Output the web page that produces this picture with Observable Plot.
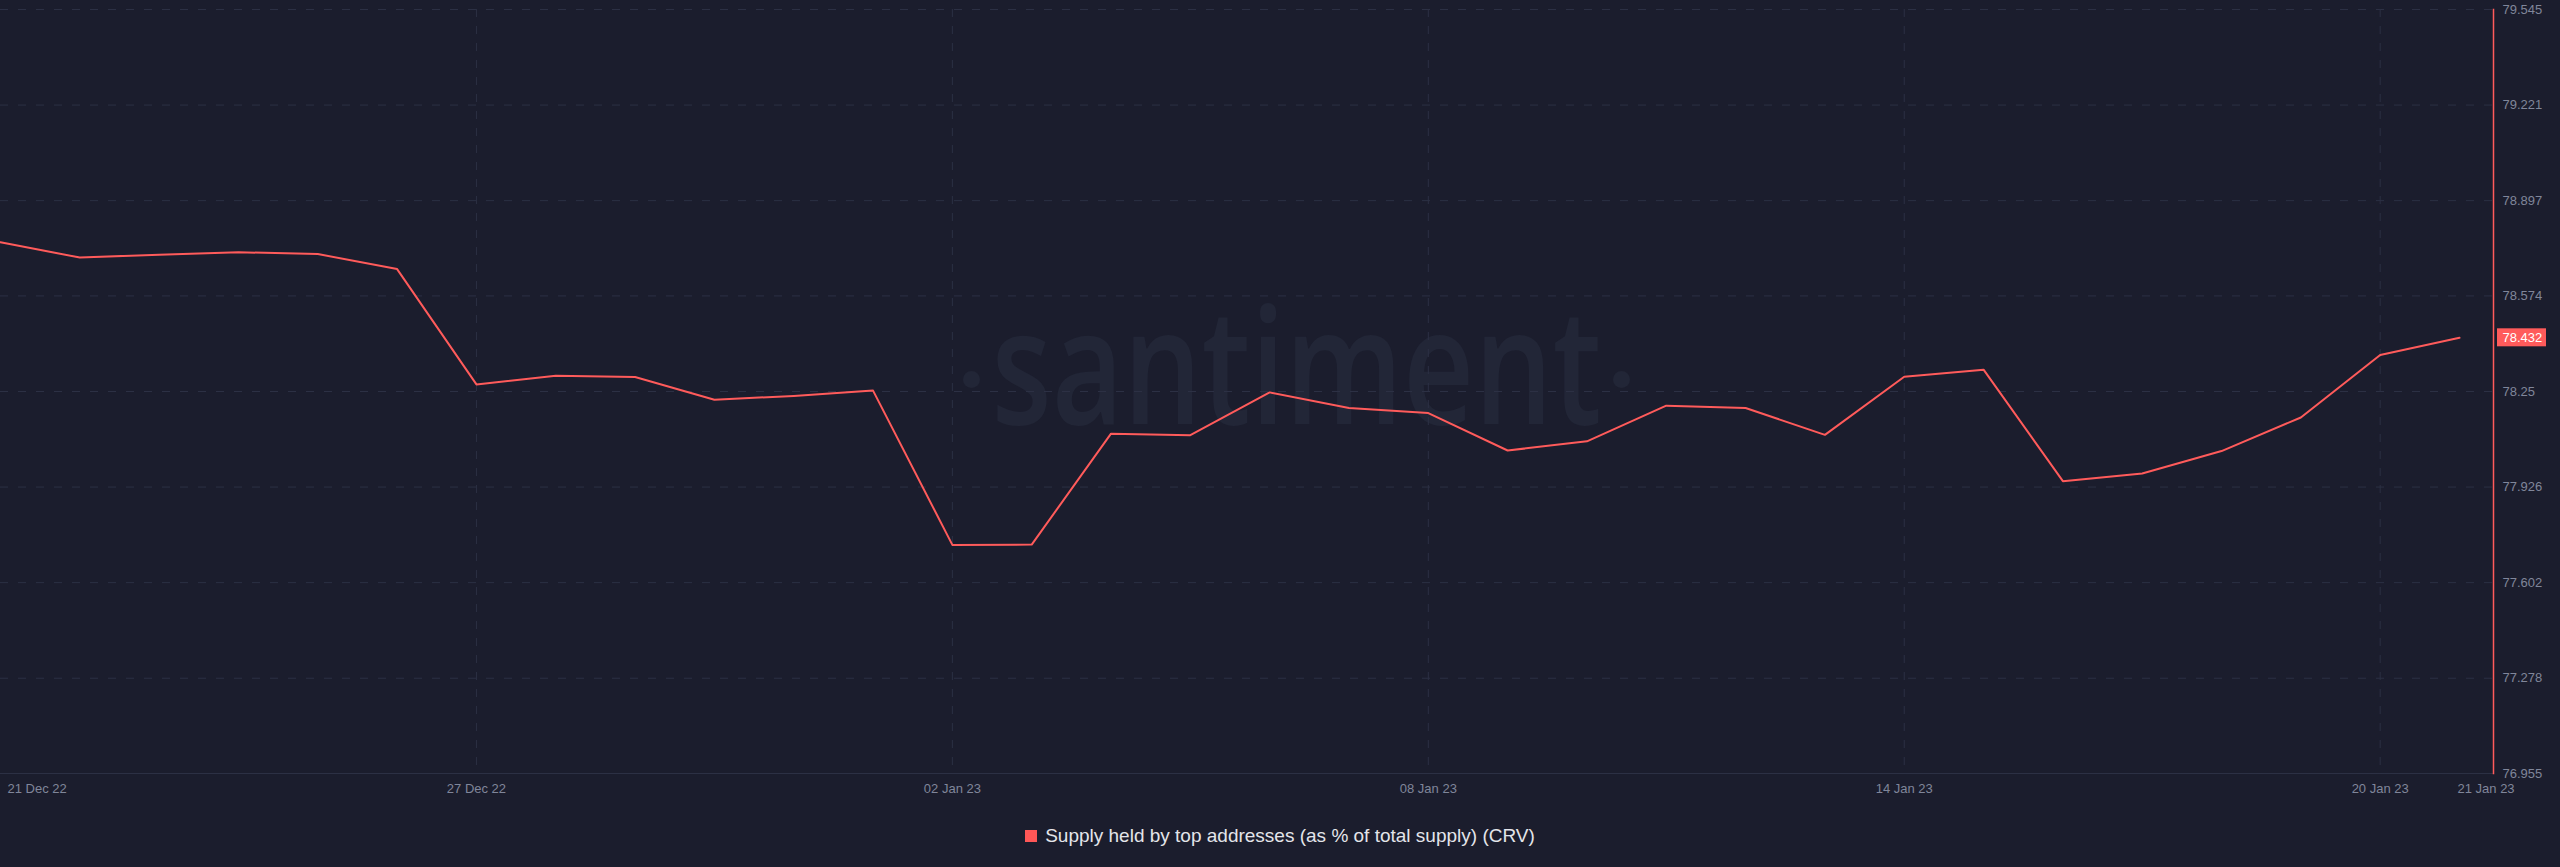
<!DOCTYPE html>
<html>
<head>
<meta charset="utf-8">
<script src="https://cdn.jsdelivr.net/npm/d3@7"></script>
<script src="https://cdn.jsdelivr.net/npm/@observablehq/plot@0.6"></script>
<style>
  html, body { margin: 0; padding: 0; background: #1b1d2d; }
  #chart svg { display: block; }
  #legend {
    height: 52px; display: flex; justify-content: center; align-items: center;
    font-family: "Liberation Sans", Arial, sans-serif; font-size: 19px; color: #e4e5ea;
  }
  #legend .sw { width: 12px; height: 12px; background: #ff5757; margin-right: 8px; display: inline-block; }
</style>
</head>
<body>
<div id="chart"></div>
<div id="legend"><span class="sw"></span><span id="legend-text"></span></div>
<script>
const seriesName = "Supply held by top addresses (as % of total supply) (CRV)";
const dates = [
  "2022-12-21","2022-12-22","2022-12-23","2022-12-24","2022-12-25","2022-12-26","2022-12-27","2022-12-28",
  "2022-12-29","2022-12-30","2022-12-31","2023-01-01","2023-01-02","2023-01-03","2023-01-04","2023-01-05",
  "2023-01-06","2023-01-07","2023-01-08","2023-01-09","2023-01-10","2023-01-11","2023-01-12","2023-01-13",
  "2023-01-14","2023-01-15","2023-01-16","2023-01-17","2023-01-18","2023-01-19","2023-01-20","2023-01-21"
];
const values = [
  78.756, 78.704, 78.714, 78.722, 78.716, 78.665, 78.274, 78.303,
  78.299, 78.222, 78.235, 78.253, 77.730, 77.731, 78.107, 78.102,
  78.247, 78.194, 78.177, 78.050, 78.081, 78.202, 78.194, 78.103,
  78.300, 78.324, 77.946, 77.972, 78.048, 78.162, 78.374, 78.432
];
const yTicks = [79.545, 79.221, 78.897, 78.574, 78.25, 77.926, 77.602, 77.278, 76.955];
const xTickDates = ["2022-12-27", "2023-01-02", "2023-01-08", "2023-01-14", "2023-01-20"];
const edgeDates = ["2022-12-21", "2023-01-21"];
const lastLabel = "78.432";
const watermark = "santiment";

const parse = d3.utcParse("%Y-%m-%d");
const fmt = d3.utcFormat("%d %b %y");
const data = dates.map((d, i) => ({date: parse(d), value: values[i]}));
const xTicks = xTickDates.map(parse);
const edges = edgeDates.map(parse);
const last = data[data.length - 1];

const red = "#ff5b5b";
const gridColor = "#2c3044";
const wmColor = "#222637";

const plot = Plot.plot({
  width: 2560,
  height: 810,
  marginTop: 9,
  marginBottom: 37,
  marginLeft: 0,
  marginRight: 67,
  x: {type: "utc", domain: [data[0].date, last.date], range: [0, 2459], label: null},
  y: {domain: [76.955, 79.545], label: null},
  style: {
    background: "#1b1d2d",
    color: "#80869a",
    fontFamily: "'Liberation Sans', Arial, sans-serif",
    fontSize: "13px"
  },
  marks: [
    Plot.text([watermark], {frameAnchor: "middle", dx: 49.5, dy: 32, lineAnchor: "bottom",
      fontSize: 161, fontWeight: 600, fontFamily: "'Open Sans', sans-serif", fill: wmColor}),
    Plot.dot([0], {frameAnchor: "middle", dx: -275.5, dy: -12, r: 8.5, fill: wmColor, stroke: null}),
    Plot.dot([0], {frameAnchor: "middle", dx: 374.5, dy: -12, r: 8.5, fill: wmColor, stroke: null}),
    Plot.gridY(yTicks.slice(0, -1), {stroke: gridColor, strokeOpacity: 1, strokeDasharray: "8,10"}),
    Plot.gridX(xTicks, {stroke: gridColor, strokeOpacity: 1, strokeDasharray: "8,9"}),
    Plot.frame({anchor: "bottom", stroke: gridColor, strokeOpacity: 1}),
    Plot.line(data, {x: "date", y: "value", stroke: red, strokeWidth: 2}),
    Plot.frame({anchor: "right", stroke: red, strokeWidth: 1.5}),
    Plot.axisY(yTicks, {anchor: "right", tickSize: 0, tickPadding: 9, tickFormat: d => String(d), label: null}),
    Plot.axisX(xTicks, {anchor: "bottom", tickSize: 0, tickPadding: 10, tickFormat: fmt, label: null}),
    Plot.text([edges[0]], {x: d => d, frameAnchor: "bottom", text: fmt, textAnchor: "start", lineAnchor: "top", dx: 7, dy: 10, fill: "#80869a"}),
    Plot.text([edges[1]], {x: d => d, frameAnchor: "bottom", text: fmt, textAnchor: "start", lineAnchor: "top", dx: -2, dy: 10, fill: "#80869a"}),
    Plot.rect([last], {x1: "date", x2: "date", y1: "value", y2: "value",
      insetLeft: 38, insetRight: -87, insetTop: -9, insetBottom: -9, fill: red}),
    Plot.text([last], {x: "date", y: "value", text: () => lastLabel, textAnchor: "start", dx: 43, fill: "#ffffff"})
  ]
});

document.getElementById("chart").appendChild(plot);
document.getElementById("legend-text").textContent = seriesName;

// condense the watermark lettering
for (const t of plot.querySelectorAll("text")) {
  if (t.textContent === watermark) {
    t.setAttribute("textLength", 610);
    t.setAttribute("lengthAdjust", "spacingAndGlyphs");
  }
}
</script>
</body>
</html>
